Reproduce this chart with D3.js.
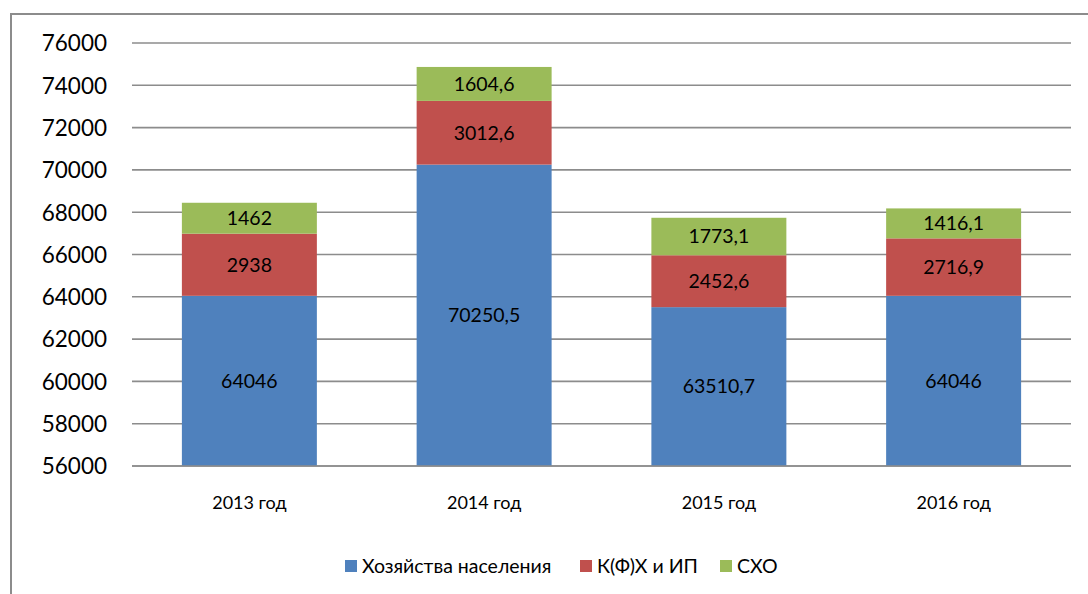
<!DOCTYPE html>
<html><head><meta charset="utf-8">
<script src="https://cdn.jsdelivr.net/npm/d3@7"></script>
<style>body{margin:0;background:#fff}svg{display:block}text{font-family:Lato,"Open Sans",sans-serif;fill:#000}</style>
</head><body><svg id="c" width="1088" height="594"></svg>
<script>
const categories = ["2013 год","2014 год","2015 год","2016 год"];
const seriesNames = ["Хозяйства населения","К(Ф)Х и ИП","СХО"];
const households = [64046, 70250.5, 63510.7, 64046];
const farms = [2938, 3012.6, 2452.6, 2716.9];
const agroOrgs = [1462, 1604.6, 1773.1, 1416.1];
const labelsHouseholds = ["64046","70250,5","63510,7","64046"];
const labelsFarms = ["2938","3012,6","2452,6","2716,9"];
const labelsAgro = ["1462","1604,6","1773,1","1416,1"];
const yTicks = [56000,58000,60000,62000,64000,66000,68000,70000,72000,74000,76000];
const colors = ["#4f81bd","#c0504d","#9bbb59"];

const svg = d3.select("#c");
svg.append("path").attr("d","M11,594 V14 H1088").attr("fill","none").attr("stroke","#8c8c8c").attr("stroke-width",2);

const x = d3.scaleBand().domain(categories).range([132,1071]).paddingInner(0.425).paddingOuter(0.2125);
const y = d3.scaleLinear().domain([56000,76000]).range([466,43]);

svg.append("g").selectAll("line").data(yTicks).join("line")
 .attr("x1",132).attr("x2",1071).attr("y1",d=>y(d)).attr("y2",d=>y(d))
 .attr("stroke","#8c8c8c").attr("stroke-width",1.6);

const yAxis = d3.axisLeft(y).tickValues(yTicks).tickSize(0).tickPadding(0).tickFormat(d=>String(d));
const ya = svg.append("g").attr("transform","translate(107,0)").call(yAxis);
ya.select(".domain").remove();
ya.selectAll("text").style("font-size","22.5px").attr("dy","0.35em");

const stackData = categories.map((c,i)=>({cat:c, h:households[i], f:farms[i], a:agroOrgs[i]}));
const stack = d3.stack().keys(["h","f","a"])(stackData);
const labels = {h:labelsHouseholds, f:labelsFarms, a:labelsAgro};

stack.forEach((layer,k)=>{
  const lg = svg.append("g");
  lg.selectAll("rect").data(layer).join("rect")
    .attr("x",d=>x(d.data.cat)).attr("width",x.bandwidth())
    .attr("y",d=>y(Math.min(d[1],76000))).attr("height",d=>y(Math.max(d[0],56000))-y(d[1]))
    .attr("fill",colors[k]);
  lg.selectAll("text").data(layer).join("text")
    .attr("x",d=>x(d.data.cat)+x.bandwidth()/2)
    .attr("y",d=>(y(Math.max(d[0],56000))+y(d[1]))/2)
    .attr("dy","0.35em").attr("text-anchor","middle").style("font-size","19.5px")
    .text((d,i)=>labels[layer.key][i]);
});

svg.append("line").attr("x1",132).attr("x2",1071).attr("y1",y(56000)).attr("y2",y(56000)).attr("stroke","#8c8c8c").attr("stroke-width",1.6);

const xAxis = d3.axisBottom(x).tickSize(0).tickPadding(0);
const xa = svg.append("g").attr("transform","translate(0,503)").call(xAxis);
xa.select(".domain").remove();
xa.selectAll("text").style("font-size","18px").attr("dy","0.35em");

const legX = [345, 580, 720];
const lgd = svg.append("g");
seriesNames.forEach((n,i)=>{
  lgd.append("rect").attr("x",legX[i]).attr("y",560).attr("width",12).attr("height",12).attr("fill",colors[i]);
  lgd.append("text").attr("x",legX[i]+17).attr("y",566).attr("dy","0.35em").style("font-size","19.5px").text(n);
});
</script></body></html>
